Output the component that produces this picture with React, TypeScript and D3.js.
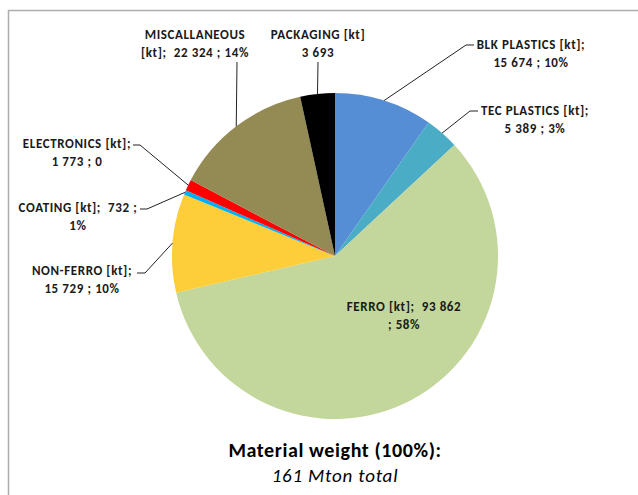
import React, { useEffect, useRef } from 'react';
import * as d3 from 'd3';

// clockwise from 12 o'clock
const categories = ['BLK PLASTICS', 'TEC PLASTICS', 'FERRO', 'NON-FERRO', 'COATING', 'ELECTRONICS', 'MISCALLANEOUS', 'PACKAGING'];
// slice sizes in kt as drawn (total 161 Mton, packaging slice is wider than its label says)
const sliceKt = [15674, 5389, 93862, 15729, 732, 1773, 22324, 5517];
const valueLabels = ['15 674', '5 389', '93 862', '15 729', '732', '1 773', '22 324', '3 693'];
const pctLabels = ['10%', '3%', '58%', '10%', '1%', '0', '14%', ''];
const colors = ['#558ED5', '#4BACC6', '#C3D69B', '#FDCD3A', '#00B0F0', '#FF0000', '#948A54', '#000000'];

const W = 638;
const H = 495;
const cx = 335;
const cy = 256;
const R = 163;
const FONT = 'Carlito, Lato, "Open Sans", sans-serif';

// label layout: text lines, anchor x, first baseline, leader elbow point
const labelLayout: { lines: string[]; x: number; y: number; elbow?: [number, number][] }[] = [
  { lines: [`${categories[0]} [kt];`, `${valueLabels[0]} ; ${pctLabels[0]}`], x: 531, y: 49, elbow: [[466, 45], [474, 45]] },
  { lines: [`${categories[1]} [kt];`, `${valueLabels[1]} ; ${pctLabels[1]}`], x: 535, y: 115, elbow: [[470, 111], [478, 111]] },
  { lines: [`${categories[2]} [kt];  ${valueLabels[2]}`, `; ${pctLabels[2]}`], x: 404, y: 311 },
  { lines: [`${categories[3]} [kt];`, `${valueLabels[3]} ; ${pctLabels[3]}`], x: 82, y: 275, elbow: [[145, 273], [137, 273]] },
  { lines: [`${categories[4]} [kt];  ${valueLabels[4]} ;`, pctLabels[4]], x: 78, y: 212, elbow: [[147, 209], [140, 209]] },
  { lines: [`${categories[5]} [kt];`, `${valueLabels[5]} ; ${pctLabels[5]}`], x: 77, y: 148, elbow: [[140, 145], [133, 145]] },
  { lines: [categories[6], `[kt];  ${valueLabels[6]} ; ${pctLabels[6]}`], x: 195, y: 39, elbow: [[237, 62]] },
  { lines: [`${categories[7]} [kt]`, valueLabels[7]], x: 318, y: 39, elbow: [[318, 62]] },
];

const App: React.FC = () => {
  const svgRef = useRef<SVGSVGElement>(null);

  useEffect(() => {
    if (!svgRef.current) return;
    const svg = d3.select(svgRef.current);
    svg.selectAll('*').remove();

    // chart frame (only top & left edges visible)
    svg.append('path')
      .attr('d', `M8.5,${H} L8.5,10.5 L${W},10.5`)
      .attr('fill', 'none')
      .attr('stroke', '#ADADAD')
      .attr('stroke-width', 1.5);

    const pie = d3.pie<number>().sort(null).value((d) => d);
    const arcs = pie(sliceKt);
    const arc = d3.arc<d3.PieArcDatum<number>>().innerRadius(0).outerRadius(R);

    const g = svg.append('g').attr('transform', `translate(${cx},${cy})`);
    g.selectAll('path.slice')
      .data(arcs)
      .join('path')
      .attr('class', 'slice')
      .attr('d', arc)
      .attr('fill', (_, i) => colors[i]);

    // leader lines
    const edge = d3.arc<d3.PieArcDatum<number>>().innerRadius(R).outerRadius(R);
    arcs.forEach((a, i) => {
      const lay = labelLayout[i];
      if (!lay.elbow) return;
      const [ex, ey] = edge.centroid(a);
      const pts: [number, number][] = [[cx + ex, cy + ey], ...lay.elbow];
      svg.append('path')
        .attr('d', d3.line()(pts))
        .attr('fill', 'none')
        .attr('stroke', '#222')
        .attr('stroke-width', 1);
    });

    // labels
    labelLayout.forEach((lay) => {
      const t = svg.append('text')
        .attr('x', lay.x)
        .attr('y', lay.y)
        .attr('text-anchor', 'middle')
        .attr('font-family', FONT)
        .attr('font-weight', 'bold')
        .attr('font-size', 13)
        .attr('letter-spacing', 0.6)
        .attr('fill', '#1a1a1a');
      lay.lines.forEach((line, k) => {
        t.append('tspan')
          .attr('x', lay.x)
          .attr('dy', k === 0 ? 0 : 17.5)
          .attr('xml:space', 'preserve')
          .style('white-space', 'pre')
          .text(line);
      });
    });

    // caption
    svg.append('text')
      .attr('x', 335)
      .attr('y', 457)
      .attr('text-anchor', 'middle')
      .attr('font-family', FONT)
      .attr('font-weight', 'bold')
      .attr('font-size', 20)
      .attr('letter-spacing', 0.6)
      .attr('fill', '#000')
      .text('Material weight (100%):');
    svg.append('text')
      .attr('x', 335)
      .attr('y', 482)
      .attr('text-anchor', 'middle')
      .attr('font-family', FONT)
      .attr('font-style', 'italic')
      .attr('font-size', 19)
      .attr('letter-spacing', 0.8)
      .attr('fill', '#000')
      .text('161 Mton total');
  }, []);

  return (
    <div style={{ position: 'absolute', left: 0, top: 0, width: W, height: H, background: '#fff' }}>
      <svg ref={svgRef} width={W} height={H} viewBox={`0 0 ${W} ${H}`} style={{ display: 'block' }} />
    </div>
  );
};

export default App;
